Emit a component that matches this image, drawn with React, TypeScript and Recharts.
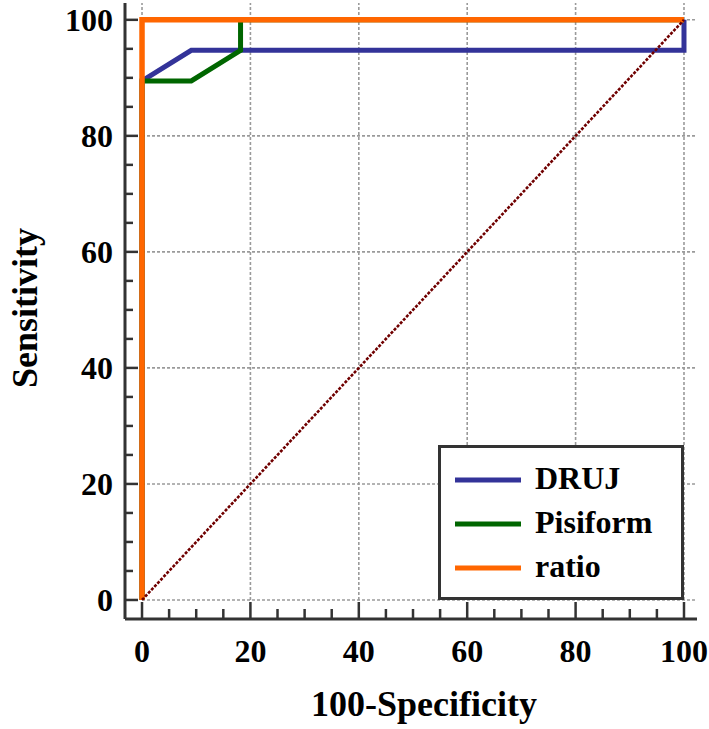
import { LineChart, Line, XAxis, YAxis, ReferenceLine, Legend } from "recharts";

// ROC curves (100-Specificity vs Sensitivity)
const drujPoints = [
  { x: 0, y: 0 },
  { x: 0, y: 89.47 },
  { x: 9.09, y: 94.74 },
  { x: 100, y: 94.74 },
  { x: 100, y: 100 },
];
const pisiformPoints = [
  { x: 0, y: 0 },
  { x: 0, y: 89.47 },
  { x: 9.09, y: 89.47 },
  { x: 18.18, y: 94.74 },
  { x: 18.18, y: 100 },
  { x: 100, y: 100 },
];
const ratioPoints = [
  { x: 0, y: 0 },
  { x: 0, y: 100 },
  { x: 100, y: 100 },
];
const diagonalPoints = [
  { x: 0, y: 0 },
  { x: 100, y: 100 },
];

const majorTicks = [0, 20, 40, 60, 80, 100];
const allTicks = [0, 5, 10, 15, 20, 25, 30, 35, 40, 45, 50, 55, 60, 65, 70, 75, 80, 85, 90, 95, 100];

const X_DOMAIN: [number, number] = [-3.14, 102.4];
const Y_DOMAIN: [number, number] = [-3.28, 102.9];

const FONT = "'Liberation Serif', 'Times New Roman', serif";
const AXIS = "#333333";
const GRID = "#9a9a9a";

const XTick = (props: any) => {
  const { x, y, payload } = props;
  const major = majorTicks.includes(payload.value);
  return (
    <g>
      <line x1={x} x2={x} y1={y} y2={y - (major ? 17 : 10)} stroke={AXIS} strokeWidth={2.5} />
      {major && (
        <text x={x} y={y + 43} textAnchor="middle" fontFamily={FONT} fontWeight="bold" fontSize={32} fill="#000">
          {payload.value}
        </text>
      )}
    </g>
  );
};

const YTick = (props: any) => {
  const { x, y, payload } = props;
  const major = majorTicks.includes(payload.value);
  return (
    <g>
      <line x1={x} x2={x + (major ? 13 : 8)} y1={y} y2={y} stroke={AXIS} strokeWidth={2.5} />
      {major && (
        <text x={x - 12} y={y + 11} textAnchor="end" fontFamily={FONT} fontWeight="bold" fontSize={32} fill="#000">
          {payload.value}
        </text>
      )}
    </g>
  );
};

const LegendBox = (props: any) => {
  const items = (props.payload || []).filter((p: any) => p.type !== "none");
  return (
    <svg width={246} height={155} style={{ display: "block" }}>
      <rect x={1.5} y={1.5} width={243} height={152} fill="#fff" stroke={AXIS} strokeWidth={3} />
      {items.map((item: any, i: number) => (
        <g key={item.value}>
          <line x1={17} x2={83} y1={35 + i * 44} y2={35 + i * 44} stroke={item.color} strokeWidth={5} />
          <text x={97} y={44 + i * 44} fontFamily={FONT} fontWeight="bold" fontSize={32} fill="#000">
            {item.value}
          </text>
        </g>
      ))}
    </svg>
  );
};

export default function App() {
  return (
    <div style={{ position: "absolute", left: 0, top: 0, width: 709, height: 729, background: "#fff" }}>
      <LineChart width={709} height={729} margin={{ top: 3, right: 12, bottom: 70, left: 65 }}>
        {majorTicks.map((v) => (
          <ReferenceLine
            key={"v" + v}
            segment={[{ x: v, y: 0 }, { x: v, y: Y_DOMAIN[1] }]}
            stroke={GRID}
            strokeWidth={1.6}
            strokeDasharray="3 2"
          />
        ))}
        {majorTicks.map((v) => (
          <ReferenceLine
            key={"h" + v}
            segment={[{ x: 0, y: v }, { x: X_DOMAIN[1], y: v }]}
            stroke={GRID}
            strokeWidth={1.6}
            strokeDasharray="3 2"
          />
        ))}
        <XAxis
          type="number"
          dataKey="x"
          domain={X_DOMAIN}
          ticks={allTicks}
          interval={0}
          height={40}
          tickSize={0}
          tickMargin={0}
          tickLine={false}
          axisLine={{ stroke: AXIS, strokeWidth: 3 }}
          tick={<XTick />}
          allowDataOverflow
          label={{
            content: () => (
              <text x={424} y={716} textAnchor="middle" fontFamily={FONT} fontWeight="bold" fontSize={36} fill="#000">
                100-Specificity
              </text>
            ),
          }}
        />
        <YAxis
          type="number"
          dataKey="y"
          domain={Y_DOMAIN}
          ticks={allTicks}
          interval={0}
          width={60}
          tickSize={0}
          tickMargin={0}
          tickLine={false}
          axisLine={{ stroke: AXIS, strokeWidth: 3 }}
          tick={<YTick />}
          allowDataOverflow
          label={{
            content: () => (
              <text
                x={37}
                y={308}
                transform="rotate(-90, 37, 308)"
                textAnchor="middle"
                fontFamily={FONT}
                fontWeight="bold"
                fontSize={36}
                fill="#000"
              >
                Sensitivity
              </text>
            ),
          }}
        />
        <Legend
          layout="horizontal"
          verticalAlign="middle"
          align="center"
          content={<LegendBox />}
          wrapperStyle={{ left: 438, top: 445, width: 246, height: 155 }}
        />
        <Line data={drujPoints} dataKey="y" name="DRUJ" type="linear" stroke="#333399" strokeWidth={5} dot={false} activeDot={false} isAnimationActive={false} strokeLinejoin="miter" />
        <Line data={pisiformPoints} dataKey="y" name="Pisiform" type="linear" stroke="#006600" strokeWidth={5} dot={false} activeDot={false} isAnimationActive={false} strokeLinejoin="miter" />
        <Line data={ratioPoints} dataKey="y" name="ratio" type="linear" stroke="#ff6600" strokeWidth={5.5} dot={false} activeDot={false} isAnimationActive={false} strokeLinejoin="miter" />
        <Line data={diagonalPoints} dataKey="y" name="ref" legendType="none" type="linear" stroke="#700000" strokeWidth={2.6} strokeDasharray="3 1.5" dot={false} activeDot={false} isAnimationActive={false} />
      </LineChart>
    </div>
  );
}
